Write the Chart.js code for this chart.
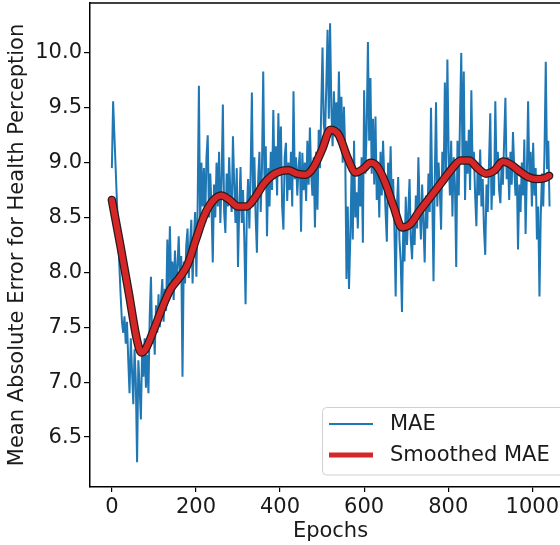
<!DOCTYPE html>
<html>
<head>
<meta charset="utf-8">
<script src="https://cdn.jsdelivr.net/npm/chart.js@4.4.1/dist/chart.umd.min.js"></script>
<style>
  html, body { margin: 0; padding: 0; overflow: hidden; background: #fff; width: 560px; height: 545px; }
  #wrap { position: relative; width: 580px; height: 545px; }
</style>
</head>
<body>
<div id="wrap"><canvas id="c" width="580" height="545"></canvas></div>
<script>
// Per-epoch MAE, sampled every 3 epochs starting at epoch 0
const maeStartEpoch = 0;
const maeEpochStep = 3;
const maeValues = [
  8.95, 9.56, 9.25, 8.95, 8.65, 8.35, 8.05, 7.78, 7.55, 7.45,
  7.60, 7.35, 7.55, 7.20, 6.90, 7.40, 7.10, 6.80, 7.30, 7.00,
  6.27, 7.20, 6.95, 6.66, 7.30, 7.05, 7.40, 6.95, 7.25, 6.90,
  7.60, 7.96, 7.35, 7.55, 7.25, 7.70, 7.45, 7.80, 7.50, 7.75,
  7.94, 7.55, 7.85, 7.65, 8.30, 7.80, 8.42, 7.90, 8.10, 7.75,
  8.20, 7.90, 8.05, 8.33, 7.95, 8.15, 7.05, 8.10, 7.90, 8.25,
  8.40, 7.95, 8.25, 8.48, 7.90, 8.30, 8.55, 7.96, 8.60, 9.70,
  8.40, 9.00, 8.60, 8.95, 8.45, 9.05, 9.25, 8.50, 8.90, 8.60,
  8.09, 8.80, 8.50, 9.00, 8.60, 9.10, 8.45, 8.85, 9.53, 8.55,
  8.36, 8.90, 8.60, 9.05, 8.70, 8.55, 9.24, 8.80, 8.45, 8.95,
  8.05, 8.60, 8.96, 8.45, 8.75, 8.30, 7.71, 8.55, 8.85, 8.40,
  8.90, 9.64, 8.60, 9.05, 8.50, 8.18, 8.85, 9.10, 8.55, 8.95,
  9.83, 8.80, 9.15, 8.33, 8.95, 8.60, 9.10, 8.75, 9.48, 8.85,
  9.15, 8.70, 9.45, 8.90, 9.33, 8.60, 8.39, 9.05, 9.18, 8.65,
  9.00, 8.75, 9.10, 8.60, 9.65, 8.85, 9.05, 8.70, 8.95, 9.10,
  8.37, 9.09, 8.75, 9.00, 8.65, 9.20, 8.80, 9.32, 8.90, 8.70,
  9.05, 8.41, 9.10, 8.57, 9.30, 8.95, 9.50, 10.05, 9.35, 9.24,
  9.70, 10.21, 9.40, 10.27, 9.50, 9.15, 9.65, 9.30, 9.55, 9.20,
  9.83, 9.25, 9.60, 9.00, 9.51, 9.10, 7.94, 8.60, 7.85, 8.30,
  8.90, 8.30, 9.20, 8.50, 8.73, 8.40, 8.95, 8.60, 9.05, 8.27,
  9.66, 8.90, 9.30, 10.10, 9.20, 9.77, 8.90, 9.40, 8.80, 9.42,
  8.66, 9.00, 8.50, 9.10, 8.70, 9.20, 8.85, 8.55, 8.28, 9.00,
  8.70, 9.15, 8.60, 8.85, 8.40, 7.78, 8.60, 8.87, 8.30, 8.10,
  7.64, 8.40, 8.10, 8.69, 8.25, 8.55, 8.85, 8.30, 8.12, 8.50,
  8.25, 8.70, 8.40, 9.05, 8.60, 8.30, 8.80, 8.45, 8.09, 8.70,
  8.40, 8.90, 8.55, 9.50, 8.70, 7.92, 8.85, 9.55, 8.60, 9.00,
  8.75, 8.39, 9.10, 8.80, 9.73, 8.90, 9.94, 9.10, 8.70, 9.20,
  8.51, 9.05, 8.80, 8.05, 9.20, 8.70, 9.40, 10.00, 9.00, 9.83,
  8.66, 9.20, 8.90, 9.30, 8.75, 9.66, 8.95, 9.10, 8.70, 8.42,
  9.00, 8.70, 9.12, 8.60, 8.85, 8.40, 8.16, 8.80, 8.55, 9.00,
  9.45, 8.57, 8.95, 8.70, 9.56, 8.90, 9.10, 8.75, 8.63, 9.00,
  8.80, 9.20, 9.59, 8.85, 9.05, 8.66, 9.10, 8.80, 9.28, 8.95,
  8.70, 8.95, 8.21, 8.80, 8.55, 9.00, 8.70, 9.21, 8.35, 8.90,
  9.56, 8.85, 9.10, 8.60, 9.18, 8.70, 8.95, 8.30, 8.60, 7.78,
  8.51, 8.90, 8.60, 9.10, 9.92, 8.94, 9.20, 8.60
];

// Smoothed MAE curve
const smoothEpochs = [
  0, 20, 40, 60, 70, 80, 100, 120, 140, 160, 180, 200, 220, 240, 260, 280,
  300, 320, 340, 360, 380, 400, 420, 440, 460, 480, 500, 520, 540, 560, 580,
  600, 615, 630, 650, 670, 690, 710, 730, 750, 770, 790, 810, 830, 850, 870,
  890, 910, 930, 950, 970, 990, 1010, 1030, 1040
];
const smoothValues = [
  8.66, 8.25, 7.82, 7.38, 7.27, 7.30, 7.48, 7.68, 7.85, 7.95, 8.07, 8.30, 8.52, 8.65, 8.70, 8.66,
  8.60, 8.60, 8.68, 8.80, 8.88, 8.92, 8.93, 8.90, 8.89, 8.96, 9.12, 9.30, 9.25, 9.05, 8.91,
  8.95, 9.00, 8.97, 8.82, 8.60, 8.41, 8.44, 8.55, 8.65, 8.75, 8.85, 8.95, 9.02, 9.02, 8.95,
  8.90, 8.93, 9.01, 8.98, 8.92, 8.87, 8.85, 8.86, 8.88
];

const xTickValues = [0, 200, 400, 600, 800, 1000];
const yTickValues = [6.5, 7.0, 7.5, 8.0, 8.5, 9.0, 9.5, 10.0];

const seriesNames = ['MAE', 'Smoothed MAE'];
const blue = '#1f77b4';
const red = '#d62728';
const ink = '#1a1a1a';
const fontFamily = "'DejaVu Sans', sans-serif";
const fontSize = 21;

const maePoints = maeValues.map((v, i) => ({ x: maeStartEpoch + i * maeEpochStep, y: v }));
const smoothPoints = smoothEpochs.map((e, i) => ({ x: e, y: smoothValues[i] }));

// Top spine of the frame
const framePlugin = {
  id: 'frame',
  afterDraw(chart) {
    const { ctx, chartArea: a } = chart;
    ctx.save();
    ctx.strokeStyle = '#000';
    ctx.lineWidth = 1.5;
    ctx.beginPath();
    ctx.moveTo(a.left - 0.75, a.top);
    ctx.lineTo(a.right, a.top);
    ctx.stroke();
    ctx.restore();
  }
};

// Legend box in the lower right of the plot
const legendPlugin = {
  id: 'boxLegend',
  afterDraw(chart) {
    const { ctx } = chart;
    const bx = 322.5, by = 407.5, bw = 245, bh = 67.5, r = 4;
    ctx.save();
    ctx.beginPath();
    ctx.moveTo(bx + r, by);
    ctx.lineTo(bx + bw - r, by);
    ctx.arcTo(bx + bw, by, bx + bw, by + r, r);
    ctx.lineTo(bx + bw, by + bh - r);
    ctx.arcTo(bx + bw, by + bh, bx + bw - r, by + bh, r);
    ctx.lineTo(bx + r, by + bh);
    ctx.arcTo(bx, by + bh, bx, by + bh - r, r);
    ctx.lineTo(bx, by + r);
    ctx.arcTo(bx, by, bx + r, by, r);
    ctx.closePath();
    ctx.fillStyle = 'rgba(255,255,255,0.85)';
    ctx.fill();
    ctx.strokeStyle = '#d0d0d0';
    ctx.lineWidth = 1;
    ctx.stroke();

    const rows = [
      { label: seriesNames[0], color: blue, width: 2, y: 424 },
      { label: seriesNames[1], color: red, width: 5, y: 455 }
    ];
    ctx.font = fontSize + 'px ' + fontFamily;
    ctx.textBaseline = 'middle';
    ctx.textAlign = 'left';
    rows.forEach(row => {
      ctx.strokeStyle = row.color;
      ctx.lineWidth = row.width;
      ctx.lineCap = 'butt';
      ctx.beginPath();
      ctx.moveTo(329, row.y);
      ctx.lineTo(373, row.y);
      ctx.stroke();
      ctx.fillStyle = ink;
      ctx.fillText(row.label, 390, row.y + 1);
    });
    ctx.restore();
  }
};

new Chart(document.getElementById('c'), {
  type: 'line',
  data: {
    datasets: [
      {
        label: seriesNames[0],
        data: maePoints,
        borderColor: blue,
        borderWidth: 2,
        pointRadius: 0,
        tension: 0,
        order: 3
      },
      {
        label: seriesNames[1] + ' edge',
        data: smoothPoints,
        borderColor: '#2a1a1a',
        borderWidth: 8.5,
        pointRadius: 0,
        cubicInterpolationMode: 'monotone',
        borderCapStyle: 'round',
        order: 2
      },
      {
        label: seriesNames[1],
        data: smoothPoints,
        borderColor: red,
        borderWidth: 6,
        pointRadius: 0,
        cubicInterpolationMode: 'monotone',
        borderCapStyle: 'round',
        order: 1
      }
    ]
  },
  options: {
    responsive: false,
    animation: false,
    events: [],
    layout: { padding: { left: 0, right: 9, top: 3, bottom: 0 } },
    plugins: { legend: { display: false }, tooltip: { enabled: false } },
    scales: {
      x: {
        type: 'linear',
        min: -52,
        max: 1092,
        afterBuildTicks: s => { s.ticks = xTickValues.map(v => ({ value: v })); },
        afterFit: s => { s.height = 58; s.paddingLeft = 0; s.paddingRight = 0; },
        grid: { display: true, drawOnChartArea: false, drawTicks: true, tickLength: 5, color: '#000', lineWidth: 1.2 },
        border: { display: true, color: '#000', width: 1.5 },
        ticks: { color: ink, font: { family: fontFamily, size: fontSize }, padding: 3, maxRotation: 0, autoSkip: false,
                 callback: v => String(v) },
        title: { display: true, text: 'Epochs', color: ink, font: { family: fontFamily, size: fontSize }, padding: { top: 0, bottom: 1 } }
      },
      y: {
        type: 'linear',
        min: 6.045,
        max: 10.4545,
        afterBuildTicks: s => { s.ticks = yTickValues.map(v => ({ value: v })); },
        afterFit: s => { s.width = 90; s.paddingTop = 0; s.paddingBottom = 0; },
        grid: { display: true, drawOnChartArea: false, drawTicks: true, tickLength: 6, color: '#000', lineWidth: 1.2 },
        border: { display: true, color: '#000', width: 1.5 },
        ticks: { color: ink, font: { family: fontFamily, size: fontSize }, padding: 2, autoSkip: false,
                 callback: v => Number(v).toFixed(1) },
        title: { display: true, text: 'Mean Absolute Error for Health Perception', color: ink,
                 font: { family: fontFamily, size: fontSize }, padding: { top: 5, bottom: 0 } }
      }
    }
  },
  plugins: [framePlugin, legendPlugin]
});
</script>
</body>
</html>
